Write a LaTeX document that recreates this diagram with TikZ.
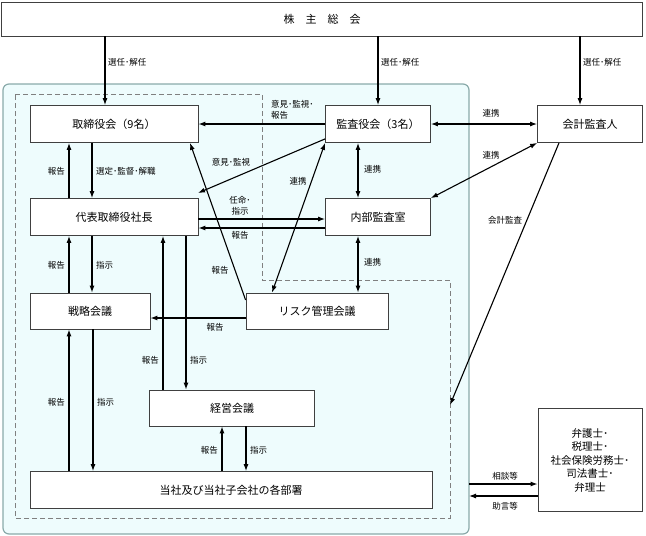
\documentclass[tikz,border=0pt]{standalone}
\usepackage{fontspec}
\newfontfamily\jp{Noto Sans CJK JP}
\usetikzlibrary{arrows.meta}

\definecolor{zonefill}{HTML}{EEFCFD}
\definecolor{zoneline}{HTML}{8AAAAA}
\definecolor{boxline}{HTML}{404040}

\tikzset{
  org/.style={draw=boxline,fill=white,line width=.8pt,font=\jp\fontsize{11}{13}\selectfont,inner sep=0pt},
  lbl/.style={font=\jp\fontsize{8.5}{11}\selectfont,inner sep=1pt,align=left},
  arr/.style={-{Latex[length=7pt,width=5pt]},line width=1.1pt},
  both/.style={{Latex[length=7pt,width=5pt]}-{Latex[length=7pt,width=5pt]},line width=1.1pt}
}

\begin{document}
\begin{tikzpicture}[x=1pt,y=-1pt]
   \useasboundingbox (0,0) rectangle (646,536);

   % group area
   \draw[draw=zoneline,fill=zonefill,line width=1.2pt,rounded corners=6pt] (3,84) rectangle (469,534);
   \draw[gray,dashed,line width=.8pt,dash pattern=on 5pt off 3pt] (15,94) -- (262,94) -- (262,280) -- (450,280) -- (450,518) -- (15,518) -- cycle;
   \coordinate (kk) at (450,405);
   \coordinate (sd1) at (469,484);
   \coordinate (sd2) at (469,496);

   \node[org,minimum width=641,minimum height=34] (kabu) at (322,19) {株\hspace{1em}主\hspace{1em}総\hspace{1em}会};
   \node[org,minimum width=168,minimum height=37] (tori) at (114,124) {取締役会（9名）};
   \node[org,minimum width=105,minimum height=37] (kansa) at (378,124) {監査役会（3名）};
   \node[org,minimum width=105,minimum height=37] (kaikei) at (590,124) {会計監査人};
   \node[org,minimum width=168,minimum height=37] (shacho) at (114,217) {代表取締役社長};
   \node[org,minimum width=105,minimum height=37] (naibu) at (378,217) {内部監査室};
   \node[org,minimum width=120,minimum height=36] (senryaku) at (90,311) {戦略会議};
   \node[org,minimum width=142,minimum height=36] (risk) at (317,311) {リスク管理会議};
   \node[org,minimum width=165,minimum height=36] (keiei) at (232,408) {経営会議};
   \node[org,minimum width=402,minimum height=37] (kakubu) at (231,490) {当社及び当社子会社の各部署};
   \node[org,minimum width=104,minimum height=103,align=center,font=\jp\fontsize{10.5}{13.5}\selectfont] (bengo) at (590,460)
      {弁護士･\\税理士･\\社会保険労務士･\\司法書士･\\弁理士};

   % shareholders
   \draw[arr] (kabu.south -| 105,0) -- (tori.north -| 105,0);
   \draw[arr] (kabu.south -| kansa) -- (kansa.north);
   \draw[arr] (kabu.south -| 580,0) -- (kaikei.north -| 580,0);
   \node[lbl,anchor=west] at (107,62) {選任･解任};
   \node[lbl,anchor=west] at (380,62) {選任･解任};
   \node[lbl,anchor=west] at (582,62) {選任･解任};

   % board and president
   \draw[arr] (shacho.north -| 69,0) -- (tori.south -| 69,0);
   \draw[arr] (tori.south -| 92,0) -- (shacho.north -| 92,0);
   \node[lbl,anchor=east] at (66,171) {報告};
   \node[lbl,anchor=west] at (95,171) {選定･監督･解職};

   \draw[arr] (senryaku.north -| 69,0) -- (shacho.south -| 69,0);
   \draw[arr] (shacho.south -| 92,0) -- (senryaku.north -| 92,0);
   \node[lbl,anchor=east] at (66,265) {報告};
   \node[lbl,anchor=west] at (95,265) {指示};

   \draw[arr] (keiei.north -| 163,0) -- (shacho.south -| 163,0);
   \draw[arr] (shacho.south -| 186,0) -- (keiei.north -| 186,0);
   \node[lbl,anchor=east] at (160,360) {報告};
   \node[lbl,anchor=west] at (189,360) {指示};

   \draw[arr] (kakubu.north -| 69,0) -- (senryaku.south -| 69,0);
   \draw[arr] (senryaku.south -| 93,0) -- (kakubu.north -| 93,0);
   \node[lbl,anchor=east] at (66,402) {報告};
   \node[lbl,anchor=west] at (96,402) {指示};

   \draw[arr] (kakubu.north -| 222,0) -- (keiei.south -| 222,0);
   \draw[arr] (keiei.south -| 246,0) -- (kakubu.north -| 246,0);
   \node[lbl,anchor=east] at (219,450) {報告};
   \node[lbl,anchor=west] at (249,450) {指示};

   % auditors
   \draw[arr] (kansa.west) -- (tori.east);
   \node[lbl,anchor=south west] at (270,120) {意見･監視･\\報告};
   \draw[arr] (kansa.south west) ++(0,-4) coordinate (k1) (k1) -- (198,193) coordinate (s1);
   \node[lbl] at (231,162) {意見･監視};

   \draw[arr] (shacho.east |- 0,219) -- (naibu.west |- 0,219);
   \draw[arr] (naibu.west |- 0,228) -- (shacho.east |- 0,228);
   \node[lbl,align=center,anchor=south] at (240,216) {任命･\\指示};
   \node[lbl] at (240,235) {報告};

   \draw[both] (kansa.south -| 358,0) -- (naibu.north -| 358,0);
   \node[lbl,anchor=west] at (363,169) {連携};
   \draw[both] (kansa.east) -- (kaikei.west);
   \node[lbl] at (491,113) {連携};
   \draw[both] (kaikei.south west) -- (naibu.north east);
   \node[lbl] at (491,155) {連携};
   \draw[both] (naibu.south -| 358,0) -- (risk.north -| 358,0);
   \node[lbl,anchor=west] at (363,262) {連携};
   \draw[both] (risk.north -| 272,0) -- (kansa.south west);
   \node[lbl] at (298,181) {連携};

   \draw[arr] (kaikei.south -| 559,0) -- (kk);
   \node[lbl] at (505,220) {会計監査};

   % risk committee
   \draw[arr] (risk.west |- 0,300) -- (tori.south -| 190,0);
   \node[lbl] at (220,270) {報告};
   \draw[arr] (risk.west |- 0,318) -- (senryaku.east |- 0,318);
   \node[lbl] at (215,327) {報告};

   % outside experts
   \draw[arr] (sd1) -- (bengo.west |- sd1);
   \draw[arr] (bengo.west |- sd2) -- (sd2);
   \node[lbl] at (505,476) {相談等};
   \node[lbl] at (505,506) {助言等};

\end{tikzpicture}
\end{document}
